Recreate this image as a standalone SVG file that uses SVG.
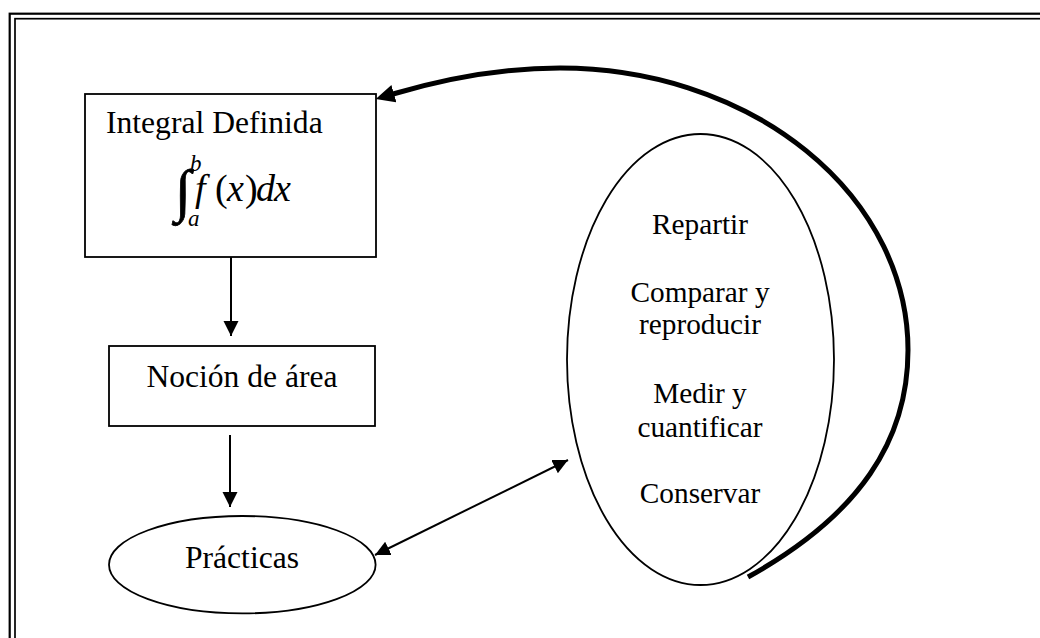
<svg xmlns="http://www.w3.org/2000/svg" width="1040" height="638" viewBox="0 0 1040 638">
<style>
  .shape{fill:#fff;stroke:#000;stroke-width:1.8}
  .ln{fill:none;stroke:#000;stroke-width:2}
  .t{font-family:"Liberation Serif","Times New Roman",serif;fill:#000}
  .big{font-size:31.6px}
  .mid{font-size:29.3px}
  .it{font-style:italic}
</style>
<defs>
  <marker id="ah" markerUnits="userSpaceOnUse" markerWidth="16" markerHeight="16" refX="15" refY="7.5" orient="auto-start-reverse">
    <path d="M0,0 L15,7.5 L0,15 z" fill="#000"/>
  </marker>
  <marker id="bigah" markerUnits="userSpaceOnUse" markerWidth="20" markerHeight="20" refX="1" refY="9" orient="auto">
    <path d="M0,0 L19,9 L0,18 z" fill="#000"/>
  </marker>
</defs>
<rect width="1040" height="638" fill="#fff"/>
<g id="border">
  <rect x="9.7" y="13.7" width="1100" height="700" fill="none" stroke="#000" stroke-width="2.2"/>
  <rect x="15" y="18.7" width="1100" height="700" fill="none" stroke="#000" stroke-width="1.7"/>
</g>
<g id="connectors">
  <line class="ln" x1="231" y1="257" x2="231" y2="336" marker-end="url(#ah)"/>
  <line class="ln" x1="230" y1="435" x2="230" y2="507" marker-end="url(#ah)"/>
  <line class="ln" x1="375" y1="555" x2="568" y2="460" marker-start="url(#ah)" marker-end="url(#ah)"/>
  <path d="M748,577 C860,515 908,440 908,350 A348,282 0 0 0 560,68 C490,68 427,84 393,94" fill="none" stroke="#000" stroke-width="5" marker-end="url(#bigah)"/>
</g>
<g id="integral-definida">
  <rect class="shape" x="85" y="94" width="291" height="163"/>
  <text class="t big" x="106" y="133">Integral Definida</text>
  <text class="t" x="175" y="210" font-size="58" stroke="#000" stroke-width="0.8">∫</text>
  <text class="t it" x="190" y="171" font-size="23">b</text>
  <text class="t it" x="188" y="226" font-size="23">a</text>
  <text class="t" y="201" font-size="38"><tspan class="it" x="195">f</tspan><tspan x="215">(</tspan><tspan class="it" x="227">x</tspan><tspan x="245">)</tspan><tspan class="it" x="256">d</tspan><tspan class="it" x="274">x</tspan></text>
</g>
<g id="nocion">
  <rect class="shape" x="109" y="346" width="266" height="80"/>
  <text class="t big" x="242" y="387" text-anchor="middle">Noción de área</text>
</g>
<g id="practicas">
  <ellipse class="shape" cx="242.3" cy="564.7" rx="133.3" ry="48.7" stroke-width="1.6"/>
  <text class="t big" x="242" y="568" text-anchor="middle">Prácticas</text>
</g>
<g id="acciones">
  <ellipse class="shape" cx="700.5" cy="359.5" rx="133.5" ry="225.5" stroke-width="1.4"/>
  <g class="t mid" text-anchor="middle">
    <text x="700" y="234">Repartir</text>
    <text x="700" y="302">Comparar y</text>
    <text x="700" y="334">reproducir</text>
    <text x="700" y="403">Medir y</text>
    <text x="700" y="437">cuantificar</text>
    <text x="700" y="503">Conservar</text>
  </g>
</g>
</svg>
